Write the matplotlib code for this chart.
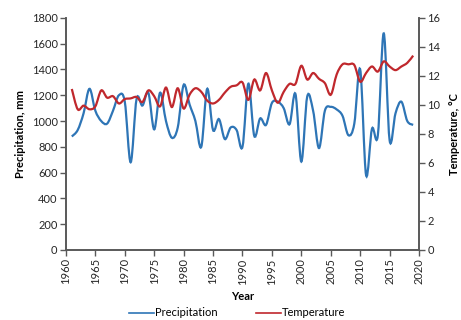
import numpy as np
import matplotlib

matplotlib.use("Agg")
import matplotlib.pyplot as plt
from matplotlib.path import Path
from matplotlib.patches import PathPatch
from matplotlib.lines import Line2D

# yearly values
years = list(range(1961, 2020))
precipitation = [
    880, 930, 1060, 1250, 1080, 1000, 980, 1080, 1200, 1150,
    680, 1170, 1120, 1220, 935, 1220, 1000, 870, 950, 1280,
    1130, 1000, 800, 1250, 930, 1015, 860, 950, 930, 800,
    1290, 885, 1020, 970, 1140, 1150, 1100, 975, 1210, 685,
    1190, 1080, 790, 1080, 1110, 1090, 1040, 890, 980, 1400,
    580, 940, 890, 1680, 850, 1060, 1150, 1000, 970,
]
temperature = [
    11.1, 9.7, 9.95, 9.7, 9.9, 11.0, 10.5, 10.6, 10.1, 10.4,
    10.45, 10.55, 10.2, 11.0, 10.6, 9.9, 11.2, 9.85, 11.15, 9.75,
    10.7, 11.15, 10.9, 10.3, 10.1, 10.35, 10.85, 11.25, 11.35, 11.55,
    10.35, 11.75, 11.0, 12.2, 11.0, 10.15, 10.9, 11.45, 11.45, 12.7,
    11.75, 12.2, 11.8, 11.5, 10.7, 12.1, 12.8, 12.8, 12.75, 11.6,
    12.2, 12.65, 12.3, 13.0, 12.65, 12.4, 12.65, 12.9, 13.4,
]

BLUE = "#2E75B6"
RED = "#C0282D"
AXC = "#595959"


def smooth_path(xs, ys):
    # Bezier path through the points, like a spreadsheet "smoothed line"
    xs = np.asarray(xs, float)
    ys = np.asarray(ys, float)
    verts = [(xs[0], ys[0])]
    codes = [Path.MOVETO]
    n = len(xs)
    for i in range(n - 1):
        x0, y0 = (xs[i - 1], ys[i - 1]) if i > 0 else (xs[i], ys[i])
        x1, y1 = xs[i], ys[i]
        x2, y2 = xs[i + 1], ys[i + 1]
        x3, y3 = (xs[i + 2], ys[i + 2]) if i + 2 < n else (x2, y2)
        c1 = (x1 + (x2 - x0) / 6, y1 + (y2 - y0) / 6)
        c2 = (x2 - (x3 - x1) / 6, y2 - (y3 - y1) / 6)
        verts += [c1, c2, (x2, y2)]
        codes += [Path.CURVE4] * 3
    return Path(verts, codes)


plt.rcParams["font.family"] = ["Lato", "DejaVu Sans"]

fig = plt.figure(figsize=(4.61, 3.2), dpi=100)
ax = fig.add_axes([0.143, 0.219, 0.766, 0.725])
ax2 = ax.twinx()

ax.add_patch(PathPatch(smooth_path(years, precipitation), fill=False,
                       edgecolor=BLUE, lw=1.6, zorder=3))
ax2.add_patch(PathPatch(smooth_path(years, temperature), fill=False,
                        edgecolor=RED, lw=1.6, zorder=3))

ax.set_xlim(1960, 2020)
ax.set_ylim(0, 1800)
ax2.set_ylim(0, 16)
ax.set_xticks(range(1960, 2021, 5))
ax.set_yticks(range(0, 1801, 200))
ax2.set_yticks(range(0, 17, 2))
ax.tick_params(axis="x", labelrotation=90)

for a in (ax, ax2):
    a.spines["top"].set_visible(False)
    for s in ("left", "right", "bottom"):
        a.spines[s].set_color(AXC)
        a.spines[s].set_linewidth(1.2)
    a.tick_params(direction="out", length=4, width=1.0, color=AXC,
                  labelsize=8, labelcolor="#262626", pad=2)

ax.set_xlabel("Year", fontsize=8, fontweight="bold", labelpad=5)
ax.set_ylabel("Precipitation, mm", fontsize=8, fontweight="bold", labelpad=4)
ax2.set_ylabel("Temperature, °C", fontsize=8, fontweight="bold", labelpad=6)

handles = [Line2D([], [], color=BLUE, lw=1.2), Line2D([], [], color=RED, lw=1.2)]
fig.legend(handles, ["Precipitation", "Temperature"], loc="center",
           bbox_to_anchor=(0.515, 0.022), ncol=2, frameon=False, fontsize=8,
           handlelength=2.2, handletextpad=0.1, columnspacing=3.5)

fig.savefig("out.png", dpi=100)
